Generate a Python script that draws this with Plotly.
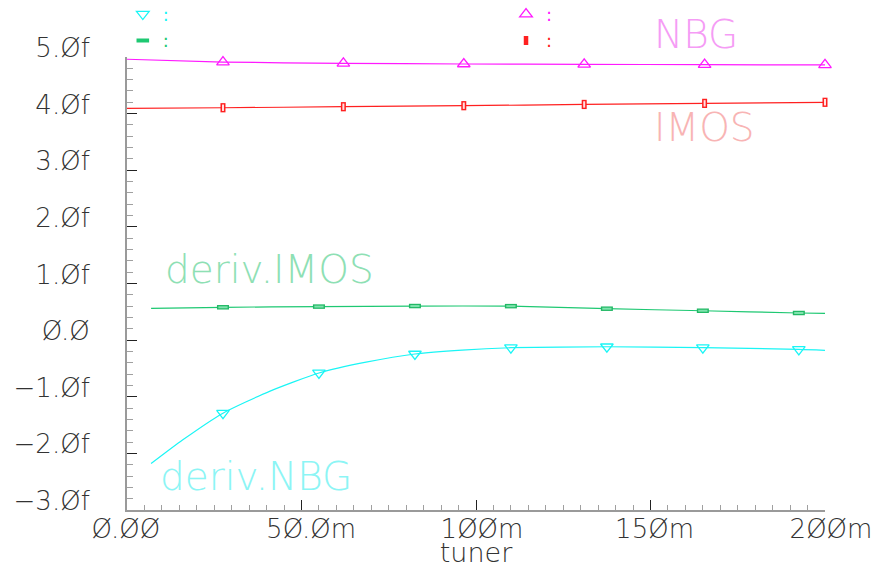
import plotly.graph_objects as go

# ---- data (x in m-units of "tuner", y in f-units) ----
nbg_x = [0.0, 27.5, 62.0, 96.5, 131.0, 165.5, 200.0]
nbg_y = [4.960, 4.911, 4.888, 4.876, 4.870, 4.865, 4.860]
imos_y = [4.094, 4.104, 4.122, 4.140, 4.162, 4.181, 4.200]

deriv_imos_x = [6.9, 27.5, 55.0, 82.5, 110.0, 137.5, 165.0, 192.5, 200.0]
deriv_imos_y = [0.560, 0.580, 0.592, 0.602, 0.600, 0.555, 0.519, 0.479, 0.473]

deriv_nbg_x = [6.9, 16.0, 27.5, 41.0, 55.0, 68.5, 82.5, 96.0, 110.0, 137.5, 165.0, 192.5, 200.0]
deriv_nbg_y = [-2.18, -1.76, -1.29, -0.90, -0.58, -0.39, -0.245, -0.175, -0.134, -0.117, -0.134, -0.163, -0.18]

# symbols are placed every 34.5m on the NBG/IMOS curves, every 27.5m on the derivatives
nbg_marks = [27.5, 62.0, 96.5, 131.0, 165.5, 200.0]
deriv_marks = [27.5, 55.0, 82.5, 110.0, 137.5, 165.0, 192.5]

x_ticks = [0, 50, 100, 150, 200]
x_ticktext = ["Ø.ØØ", "5Ø.Øm", "1ØØm", "15Øm", "2ØØm"]
y_ticks = [-3, -2, -1, 0, 1, 2, 3, 4, 5]
y_ticktext = ["−3.Øf", "−2.Øf", "−1.Øf", "Ø.Ø", "1.Øf", "2.Øf", "3.Øf", "4.Øf", "5.Øf"]

MAG, RED, GRN, CYN = "#ff1aff", "#ff2020", "#1ec872", "#1af5f5"
FONT = "DejaVu Sans"


def pick(xs, ys, keep):
    sel = [i for i, v in enumerate(xs) if v in keep]
    return [xs[i] for i in sel], [ys[i] for i in sel]


fig = go.Figure()

curves = [
    (nbg_x, nbg_y, MAG),
    (nbg_x, imos_y, RED),
    (deriv_imos_x, deriv_imos_y, GRN),
    (deriv_nbg_x, deriv_nbg_y, CYN),
]
for xs, ys, col in curves:
    fig.add_trace(go.Scatter(x=xs, y=ys, mode="lines", line=dict(color=col, width=1.2, shape="spline", smoothing=0.6),
                             showlegend=False, hoverinfo="skip", cliponaxis=False))

# curve symbols
mx, my = pick(nbg_x, nbg_y, nbg_marks)
fig.add_trace(go.Scatter(x=mx, y=my, mode="markers", showlegend=False, cliponaxis=False,
                         marker=dict(symbol="triangle-up-open", size=11, color=MAG, line=dict(width=1.3, color=MAG))))
mx, my = pick(nbg_x, imos_y, nbg_marks)
fig.add_trace(go.Scatter(x=mx, y=my, mode="markers", showlegend=False, cliponaxis=False,
                         marker=dict(symbol="line-ns", size=6.6, line=dict(width=5, color=RED))))
fig.add_trace(go.Scatter(x=mx, y=my, mode="markers", showlegend=False, cliponaxis=False,
                         marker=dict(symbol="line-ns", size=4.6, line=dict(width=2, color="#ffe0e0"))))
mx, my = pick(deriv_imos_x, deriv_imos_y, deriv_marks)
fig.add_trace(go.Scatter(x=mx, y=my, mode="markers", showlegend=False, cliponaxis=False,
                         marker=dict(symbol="line-ew", size=8.6, line=dict(width=4.5, color="#22b865"))))
fig.add_trace(go.Scatter(x=mx, y=my, mode="markers", showlegend=False, cliponaxis=False,
                         marker=dict(symbol="line-ew", size=6.6, line=dict(width=2, color="#7ee3ad"))))
mx, my = pick(deriv_nbg_x, deriv_nbg_y, deriv_marks)
fig.add_trace(go.Scatter(x=mx, y=my, mode="markers", showlegend=False, cliponaxis=False,
                         marker=dict(symbol="triangle-down-open", size=11, color=CYN, line=dict(width=1.3, color=CYN))))


# legend keys
def key(symbol, col, legend, size=11, lw=1.3):
    fig.add_trace(go.Scatter(x=[None], y=[None], mode="markers", legend=legend,
                             name=f'<span style="color:{col}">:</span>',
                             marker=dict(symbol=symbol, size=size, color=col, line=dict(width=lw, color=col))))


key("triangle-down-open", CYN, "legend")
key("line-ew", GRN, "legend", size=9, lw=4)
key("triangle-up-open", MAG, "legend2")
key("line-ns", RED, "legend2", size=6.4, lw=4.5)

legend_common = dict(font=dict(family=FONT, size=18), bgcolor="rgba(0,0,0,0)", borderwidth=0,
                     xanchor="left", yanchor="top", orientation="v", tracegroupgap=0)

# curve names
labels = [
    ("NBG", 150.4, 5.39, "#f59cf5"),
    ("IMOS", 150.4, 3.76, "#f8b4b4"),
    ("deriv.IMOS", 10.3, 1.24, "#8ee0b4"),
    ("deriv.NBG", 8.9, -2.40, "#8cf5f5"),
]
annotations = []
for t, x, y, c in labels:
    ann = dict(text=t, x=x, xref="x", xanchor="left", yanchor="middle", showarrow=False,
               font=dict(family=FONT, size=39, color=c, weight=200))
    if y > 5:  # above the plotting area: place in paper space
        ann.update(yref="paper", y=1 + (y - 5) / 8)
    else:
        ann.update(yref="y", y=y)
    annotations.append(ann)

tick_font = dict(family=FONT, size=26, color="#333333", weight=200)

fig.update_layout(
    width=881, height=568,
    margin=dict(l=127, r=56, t=57, b=58, autoexpand=False),
    paper_bgcolor="white", plot_bgcolor="white",
    legend=dict(x=-0.006, y=1.135, **legend_common),
    legend2=dict(x=0.543, y=1.135, **legend_common),
    annotations=annotations,
    xaxis=dict(range=[0, 200], showgrid=False, zeroline=False, showline=True, linecolor="#9a9a9a", linewidth=2,
               ticks="inside", ticklen=10, tickwidth=1.2, tickcolor="#222",
               tickvals=x_ticks, ticktext=x_ticktext, tickfont=tick_font,
               ticklabelposition="outside right", ticklabelshift=-37, ticklabelstandoff=-5,
               minor=dict(ticks="inside", ticklen=5, tickwidth=1, tickcolor="#a0a0a0", dtick=5, showgrid=False),
               title=dict(text="tuner", font=dict(family=FONT, size=27, color="#333333", weight=200), standoff=9)),
    yaxis=dict(range=[-3, 5], showgrid=False, zeroline=False, showline=True, linecolor="#9a9a9a", linewidth=2,
               ticks="inside", ticklen=10, tickwidth=1.2, tickcolor="#222",
               tickvals=y_ticks, ticktext=y_ticktext, tickfont=tick_font,
               ticklabelstandoff=30, ticklabelshift=-9,
               minor=dict(ticks="inside", ticklen=6, tickwidth=1, tickcolor="#a0a0a0", dtick=0.2, showgrid=False)),
)

fig.write_html("out.html")
